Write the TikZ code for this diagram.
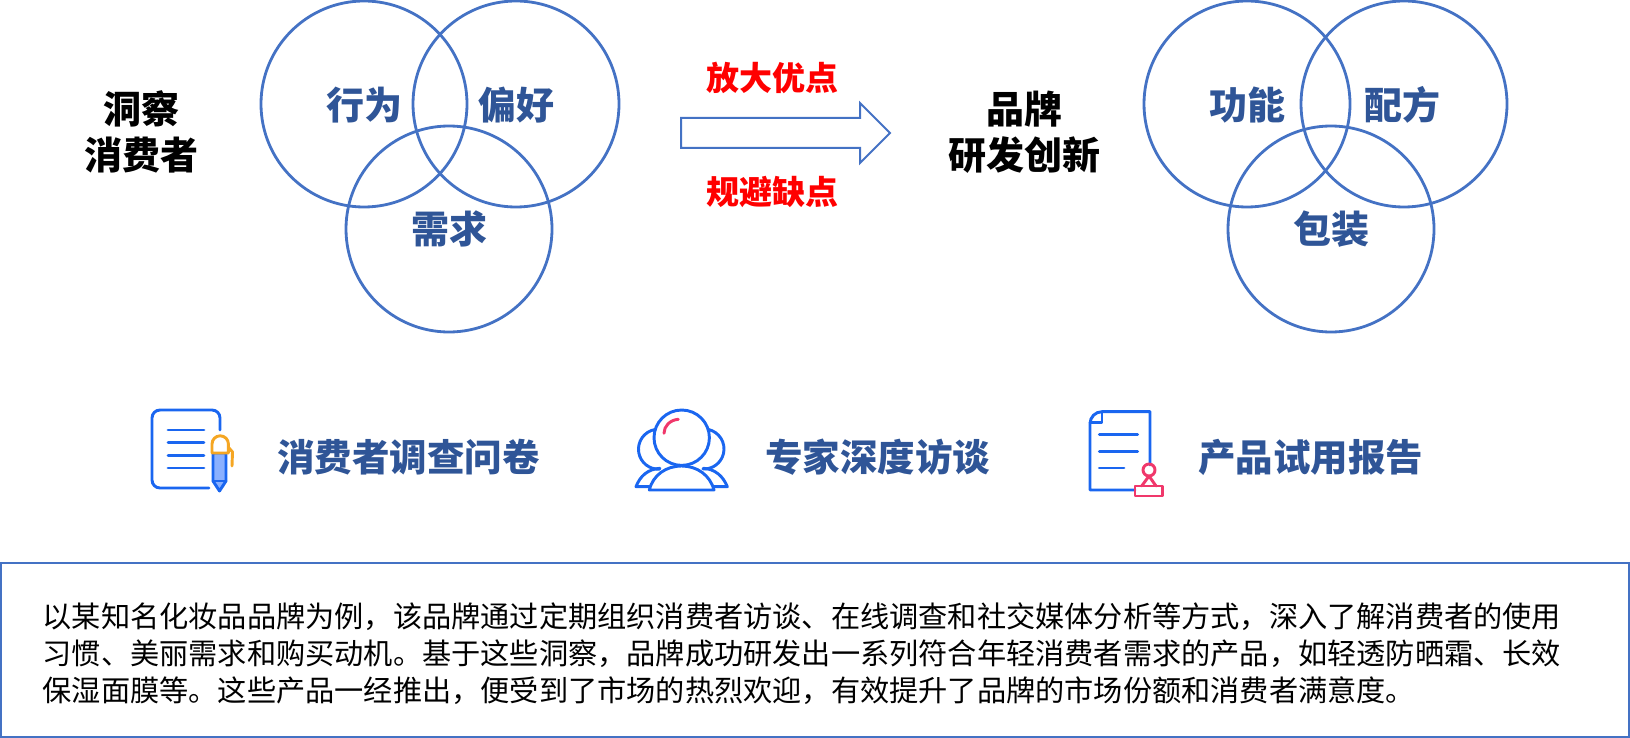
\documentclass[tikz,border=0pt]{standalone}
\usepackage{fontspec}
\setmainfont{Noto Sans CJK SC}
\usepackage{tikz}
\definecolor{ringblue}{HTML}{4472C4}
\definecolor{wordblue}{HTML}{2F5597}
\definecolor{iconblue}{HTML}{1A66F0}
\definecolor{penblue}{HTML}{8AB0FF}
\definecolor{iconpink}{HTML}{F0386B}
\definecolor{iconorange}{HTML}{F5A623}
\newlength{\punit}
\setlength{\punit}{0.75pt}
\tikzset{
  ring/.style={circle,draw=ringblue,line width=2.1pt,minimum size=206\punit,inner sep=0pt},
  ringtext/.style={text=wordblue,font=\fontsize{38\punit}{42\punit}\selectfont\bfseries},
  headtext/.style={text=black,align=center,font=\fontsize{38\punit}{46\punit}\selectfont\bfseries},
  redtext/.style={text=red,font=\fontsize{33\punit}{38\punit}\selectfont\bfseries},
  methodtext/.style={text=wordblue,anchor=west,inner sep=0pt,font=\fontsize{37.5\punit}{42\punit}\selectfont\bfseries},
  iconline/.style={draw=iconblue,line width=2.2pt,line cap=round,line join=round},
  pinkline/.style={draw=iconpink,line width=2.2pt,line cap=round,line join=round},
  orangeline/.style={draw=iconorange,line width=2.2pt,line cap=round,line join=round},
}
\begin{document}
\begin{tikzpicture}[x=0.75pt,y=-0.75pt]
\useasboundingbox (0,0) rectangle (1630,738);
% left rings
\node[ring] (behave) at (364,104) {};
\node[ring] (prefer) at (516,104) {};
\node[ring] (need) at (449,229) {};
\node[ringtext] at (364,105) {行为};
\node[ringtext] at (516,105) {偏好};
\node[ringtext] at (449,229) {需求};
\node[headtext] (insight) at (141,132) {洞察\\消费者};
% arrow
\node[redtext] (enlarge) at (772,78) {放大优点};
\node[redtext] (avoid) at (772,192) {规避缺点};
\draw[ringblue,line width=1.5pt] (681,118) -- (860,118) -- (860,103) -- (890,133) -- (860,163) -- (860,148) -- (681,148) -- cycle;
% right rings
\node[headtext] (brand) at (1024,132) {品牌\\研发创新};
\node[ring] (func) at (1247,104) {};
\node[ring] (formula) at (1404,104) {};
\node[ring] (pack) at (1331,229) {};
\node[ringtext] at (1247,105) {功能};
\node[ringtext] at (1402,105) {配方};
\node[ringtext] at (1331,229) {包装};
% survey icon
\draw[iconline] (220,430) -- (220,418) arc (0:-90:8) -- (160,410) arc (-90:-180:8) -- (152,480) arc (180:90:8) -- (209,488);
\foreach \yy in {430,442.7,455.3,468}
  \draw[iconline] (168,\yy) -- (204,\yy);
\draw[iconline,fill=penblue] (213,453) -- (226,453) -- (226,481) -- (219.5,491) -- (213,481) -- cycle;
\draw[iconline] (213,481) -- (226,481);
\draw[orangeline,fill=white] (212,453) -- (212,444) arc (180:360:8.2) -- (228.4,453) -- cycle;
\draw[orangeline] (229,448) -- (232.5,452) -- (232,466);
% expert icon
\draw[iconline] (655,429.5) arc (260:87:20);
\draw[iconline] (708.5,429.5) arc (-77:93:20);
\draw[iconline] (660,468.3) .. controls (648,469) and (640,476) .. (636,486.7) -- (649.3,486.7);
\draw[iconline] (703.3,468.3) .. controls (715,469) and (723,476) .. (727.3,486.7) -- (714,486.7);
\draw[iconline] (649.3,490) .. controls (653,475) and (666,466) .. (681.7,466) .. controls (697,466) and (710,475) .. (714,490) -- cycle;
\draw[iconline,fill=white] (681.7,437.7) circle (27.7);
\draw[pinkline] (678.3,419.3) .. controls (670,420) and (664,426) .. (664,433.3);
% trial icon
\draw[iconline] (1150,465) -- (1150,411.7) -- (1102,411.7) arc (270:180:12) -- (1090,490) -- (1135,490);
\draw[iconline] (1102,411.7) -- (1102,422.7) -- (1090,422.7);
\draw[iconline] (1099.3,434.3) -- (1137.7,434.3);
\draw[iconline] (1099.3,451.3) -- (1137.7,451.3);
\draw[iconline] (1099.3,468) -- (1124,468);
\draw[pinkline] (1149,470) circle (6);
\draw[pinkline] (1149,476) -- (1141.7,486) (1149,476) -- (1156,486);
\draw[pinkline] (1135,486) rectangle (1162.7,496);
% methods
\node[methodtext] (survey) at (277,457) {消费者调查问卷};
\node[methodtext] (expert) at (765,457) {专家深度访谈};
\node[methodtext] (trial) at (1198,457) {产品试用报告};
% text box
\node[draw=ringblue,line width=1pt,minimum width=1628\punit,minimum height=174\punit,inner sep=0pt] (casebox) at (815,650) {};
\node[anchor=west,align=left,inner sep=0pt,font=\fontsize{29.2\punit}{37\punit}\selectfont] (casetext) at (42.5,654) {以某知名化妆品品牌为例，该品牌通过定期组织消费者访谈、在线调查和社交媒体分析等方式，深入了解消费者的使用\\习惯、美丽需求和购买动机。基于这些洞察，品牌成功研发出一系列符合年轻消费者需求的产品，如轻透防晒霜、长效\\保湿面膜等。这些产品一经推出，便受到了市场的热烈欢迎，有效提升了品牌的市场份额和消费者满意度。};
\end{tikzpicture}
\end{document}
